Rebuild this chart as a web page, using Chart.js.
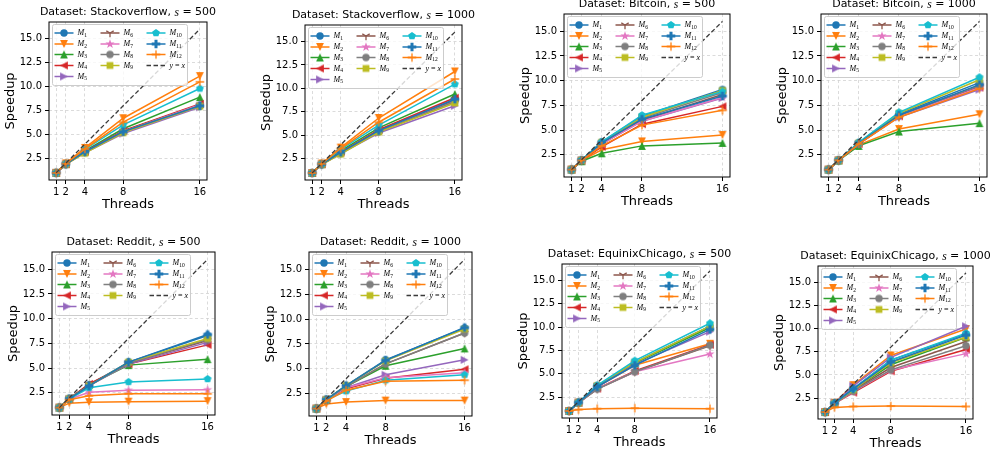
<!DOCTYPE html>
<html>
<head>
<meta charset="utf-8">
<script src="https://cdn.jsdelivr.net/npm/chart.js@4.4.1/dist/chart.umd.min.js"></script>
<style>
  html, body { margin: 0; padding: 0; background: #fff; }
  body { width: 997px; height: 456px; position: relative; overflow: hidden; }
</style>
</head>
<body>
<script>
const threads = [1, 2, 4, 8, 16];
const yTicks = [2.5, 5, 7.5, 10, 12.5, 15];
const methodIds = [1, 2, 3, 4, 5, 6, 7, 8, 9, 10, 11, 12];

// rows = M1..M12, columns = threads
const stackoverflow500 = [
  [1, 1.9, 3.2, 5.3, 8.0],
  [1, 1.98, 3.6, 6.7, 11.1],
  [1, 1.93, 3.3, 5.6, 8.9],
  [1, 1.9, 3.2, 5.4, 8.2],
  [1, 1.88, 3.1, 5.1, 7.85],
  [1, 1.9, 3.2, 5.35, 8.1],
  [1, 1.9, 3.15, 5.3, 8.1],
  [1, 1.9, 3.15, 5.3, 8.0],
  [1, 1.88, 3.05, 5.2, 7.95],
  [1, 1.95, 3.45, 6.0, 9.8],
  [1, 1.9, 3.2, 5.3, 8.0],
  [1, 1.96, 3.5, 6.3, 10.5]
];
const stackoverflow1000 = [
  [1, 1.92, 3.2, 5.5, 8.8],
  [1, 2.0, 3.7, 6.85, 11.8],
  [1, 1.95, 3.35, 5.8, 9.4],
  [1, 1.92, 3.2, 5.6, 9.0],
  [1, 1.9, 3.05, 5.25, 8.15],
  [1, 1.92, 3.1, 5.45, 8.7],
  [1, 1.92, 3.1, 5.45, 8.6],
  [1, 1.92, 3.1, 5.4, 8.6],
  [1, 1.9, 3.0, 5.35, 8.45],
  [1, 1.96, 3.5, 6.1, 10.45],
  [1, 1.92, 3.2, 5.5, 8.85],
  [1, 1.98, 3.6, 6.4, 11.0]
];
const bitcoin500 = [
  [1, 1.95, 3.8, 6.4, 9.1],
  [1, 1.9, 3.0, 3.85, 4.5],
  [1, 1.85, 2.65, 3.4, 3.7],
  [1, 1.93, 3.3, 5.6, 7.4],
  [1, 1.95, 3.6, 5.9, 8.25],
  [1, 1.95, 3.6, 6.0, 8.6],
  [1, 1.95, 3.6, 5.9, 8.3],
  [1, 1.95, 3.7, 6.2, 8.8],
  [1, 1.95, 3.75, 6.3, 9.0],
  [1, 1.96, 3.8, 6.5, 8.9],
  [1, 1.95, 3.7, 6.1, 8.45],
  [1, 1.93, 3.4, 5.5, 7.0]
];
const bitcoin1000 = [
  [1, 1.95, 3.7, 6.6, 9.8],
  [1, 1.93, 3.5, 5.1, 6.6],
  [1, 1.92, 3.4, 4.85, 5.7],
  [1, 1.95, 3.6, 6.4, 9.3],
  [1, 1.95, 3.6, 6.3, 9.1],
  [1, 1.95, 3.6, 6.4, 9.4],
  [1, 1.95, 3.6, 6.4, 9.3],
  [1, 1.95, 3.65, 6.5, 9.5],
  [1, 1.95, 3.7, 6.7, 10.1],
  [1, 1.96, 3.75, 6.8, 10.35],
  [1, 1.95, 3.65, 6.5, 9.6],
  [1, 1.95, 3.6, 6.3, 9.2]
];
const reddit500 = [
  [1, 1.9, 3.3, 5.6, 8.3],
  [1, 1.45, 1.55, 1.6, 1.65],
  [1, 1.9, 3.3, 5.3, 5.9],
  [1, 1.9, 3.4, 5.4, 7.35],
  [1, 1.88, 3.2, 5.4, 7.6],
  [1, 1.9, 3.3, 5.5, 7.8],
  [1, 1.85, 2.55, 2.75, 2.8],
  [1, 1.9, 3.2, 5.5, 7.9],
  [1, 1.9, 3.2, 5.6, 8.0],
  [1, 1.85, 3.0, 3.6, 3.9],
  [1, 1.9, 3.2, 5.6, 8.4],
  [1, 1.8, 2.2, 2.4, 2.4]
];
const reddit1000 = [
  [1, 1.9, 3.3, 5.9, 9.1],
  [1, 1.45, 1.65, 1.8, 1.8],
  [1, 1.9, 3.2, 5.3, 7.05],
  [1, 1.88, 3.0, 4.05, 4.95],
  [1, 1.88, 3.1, 4.4, 5.9],
  [1, 1.9, 3.2, 5.5, 8.6],
  [1, 1.88, 3.1, 4.1, 4.6],
  [1, 1.9, 3.2, 5.5, 8.6],
  [1, 1.9, 3.3, 5.8, 9.0],
  [1, 1.85, 2.75, 3.85, 4.4],
  [1, 1.9, 3.3, 5.85, 9.15],
  [1, 1.75, 2.85, 3.75, 3.85]
];
const equinix500 = [
  [1, 1.9, 3.7, 6.2, 10.1],
  [1, 1.9, 3.6, 5.9, 8.2],
  [1, 1.9, 3.6, 6.1, 9.95],
  [1, 1.88, 3.4, 5.3, 8.1],
  [1, 1.9, 3.6, 6.0, 9.5],
  [1, 1.88, 3.35, 5.2, 8.0],
  [1, 1.88, 3.4, 5.2, 7.1],
  [1, 1.88, 3.35, 5.2, 8.05],
  [1, 1.9, 3.7, 6.2, 10.1],
  [1, 1.92, 3.75, 6.4, 10.4],
  [1, 1.9, 3.6, 5.9, 9.75],
  [1, 1.15, 1.25, 1.3, 1.25]
];
const equinix1000 = [
  [1, 1.95, 3.5, 6.6, 9.4],
  [1, 2.0, 3.9, 7.1, 9.95],
  [1, 1.93, 3.4, 6.1, 9.05],
  [1, 1.9, 3.1, 5.4, 7.75],
  [1, 1.98, 3.8, 6.9, 10.25],
  [1, 1.92, 3.3, 5.8, 8.6],
  [1, 1.9, 3.2, 5.5, 7.3],
  [1, 1.9, 3.25, 5.55, 8.15],
  [1, 1.93, 3.4, 6.3, 9.1],
  [1, 1.95, 3.5, 6.6, 9.5],
  [1, 1.95, 3.5, 6.4, 9.3],
  [1, 1.5, 1.6, 1.65, 1.6]
];

const colors = ['#1f77b4', '#ff7f0e', '#2ca02c', '#d62728', '#9467bd', '#8c564b',
                '#e377c2', '#7f7f7f', '#bcbd22', '#17becf', '#1f77b4', '#ff7f0e'];
const markers = ['o', 'v', '^', '<', '>', '1', '*', 'o', 's', 'p', 'P', '+'];

// plot-area boxes [left, top, right, bottom] in page pixels
const panels = [
  { name: 'Stackoverflow', s: 500, values: stackoverflow500, box: [49, 22, 207, 180] },
  { name: 'Stackoverflow', s: 1000, values: stackoverflow1000, box: [305, 25, 462, 180] },
  { name: 'Bitcoin', s: 500, values: bitcoin500, box: [564, 14, 730, 177] },
  { name: 'Bitcoin', s: 1000, values: bitcoin1000, box: [821, 14, 987, 177] },
  { name: 'Reddit', s: 500, values: reddit500, box: [52, 252, 215, 415] },
  { name: 'Reddit', s: 1000, values: reddit1000, box: [309, 252, 472, 416] },
  { name: 'EquinixChicago', s: 500, values: equinix500, box: [562, 264, 717, 418] },
  { name: 'EquinixChicago', s: 1000, values: equinix1000, box: [818, 266, 973, 419] }
];

const SANS = '"DejaVu Sans", sans-serif';
const SERIF = '"Liberation Serif", "DejaVu Serif", serif';
const triAngles = { '^': 0, '>': 90, 'v': 180, '<': 270 };

function drawMarker(ctx, kind, cx, cy, color) {
  ctx.save();
  ctx.fillStyle = color;
  ctx.strokeStyle = color;
  ctx.lineWidth = 1.3;
  ctx.beginPath();
  const poly = pts => {
    pts.forEach(([x, y], i) => i ? ctx.lineTo(cx + x, cy + y) : ctx.moveTo(cx + x, cy + y));
    ctx.closePath();
    ctx.fill();
  };
  if (kind === 'o') {
    ctx.arc(cx, cy, 3.7, 0, Math.PI * 2);
    ctx.fill();
  } else if (kind in triAngles) {
    const a = triAngles[kind] * Math.PI / 180, h = 3.9;
    poly([[0, -h], [-h, h], [h, h]].map(([x, y]) =>
      [x * Math.cos(a) - y * Math.sin(a), x * Math.sin(a) + y * Math.cos(a)]));
  } else if (kind === 's') {
    ctx.fillRect(cx - 3.4, cy - 3.4, 6.8, 6.8);
  } else if (kind === 'p') {
    const pts = [];
    for (let k = 0; k < 5; k++) {
      const a = (-90 + 72 * k) * Math.PI / 180;
      pts.push([4.1 * Math.cos(a), 4.1 * Math.sin(a)]);
    }
    poly(pts);
  } else if (kind === '*') {
    const pts = [];
    for (let k = 0; k < 10; k++) {
      const a = (-90 + 36 * k) * Math.PI / 180, rr = k % 2 ? 1.9 : 4.8;
      pts.push([rr * Math.cos(a), rr * Math.sin(a)]);
    }
    poly(pts);
  } else if (kind === 'P') {
    const a = 4.3, w = 1.5;
    poly([[-w, -a], [w, -a], [w, -w], [a, -w], [a, w], [w, w], [w, a], [-w, a],
          [-w, w], [-a, w], [-a, -w], [-w, -w]]);
  } else if (kind === '+') {
    ctx.moveTo(cx - 4.3, cy); ctx.lineTo(cx + 4.3, cy);
    ctx.moveTo(cx, cy - 4.3); ctx.lineTo(cx, cy + 4.3);
    ctx.stroke();
  } else if (kind === '1') {
    ctx.moveTo(cx, cy); ctx.lineTo(cx, cy + 4.3);
    ctx.moveTo(cx, cy); ctx.lineTo(cx - 3.7, cy - 2.15);
    ctx.moveTo(cx, cy); ctx.lineTo(cx + 3.7, cy - 2.15);
    ctx.stroke();
  }
  ctx.restore();
}

function makeMarker(kind, color) {
  const c = document.createElement('canvas');
  c.width = 14;
  c.height = 14;
  drawMarker(c.getContext('2d'), kind, 7, 7, color);
  return c;
}
const markerImgs = markers.map((m, i) => makeMarker(m, colors[i]));

function drawLegend(ctx, a) {
  const x0 = a.left + 3.5, y0 = a.top + 2.5, w = 135, h = 61;
  ctx.save();
  ctx.beginPath();
  ctx.roundRect(x0, y0, w, h, 2);
  ctx.fillStyle = 'rgba(255,255,255,0.8)';
  ctx.fill();
  ctx.strokeStyle = '#cccccc';
  ctx.lineWidth = 1;
  ctx.stroke();

  const colX = [2, 48, 94];
  const rowY = [8.5, 19.5, 30, 41, 52];
  const slots = [];
  methodIds.forEach((id, i) => {
    const col = i < 5 ? 0 : i < 9 ? 1 : 2;
    const row = i < 5 ? i : i < 9 ? i - 5 : i - 9;
    slots.push({ col, row, id, i });
  });
  slots.push({ col: 2, row: 3, id: null, i: -1 });

  ctx.textBaseline = 'middle';
  ctx.fillStyle = '#000';
  slots.forEach(sl => {
    const hx = x0 + colX[sl.col], hy = y0 + rowY[sl.row];
    ctx.beginPath();
    ctx.lineWidth = 1.5;
    if (sl.i >= 0) {
      ctx.strokeStyle = colors[sl.i];
      ctx.setLineDash([]);
      ctx.moveTo(hx, hy); ctx.lineTo(hx + 19, hy);
      ctx.stroke();
      const img = markerImgs[sl.i];
      ctx.drawImage(img, hx + 9.5 - img.width / 2, hy - img.height / 2);
      ctx.font = 'italic 8px ' + SERIF;
      ctx.fillText('M', hx + 23, hy);
      const mw = ctx.measureText('M').width;
      ctx.font = '5.5px ' + SERIF;
      ctx.fillText(String(sl.id), hx + 23 + mw, hy + 2.2);
    } else {
      ctx.strokeStyle = '#3a3a3a';
      ctx.setLineDash([4.5, 2.5]);
      ctx.moveTo(hx, hy); ctx.lineTo(hx + 19, hy);
      ctx.stroke();
      ctx.setLineDash([]);
      let tx = hx + 23;
      [['y', 'italic 8px '], [' = ', '8px '], ['x', 'italic 8px ']].forEach(([t, f]) => {
        ctx.font = f + SERIF;
        ctx.fillText(t, tx, hy);
        tx += ctx.measureText(t).width;
      });
    }
  });
  ctx.restore();
}

function drawTitle(ctx, a, name, s) {
  const parts = [
    ['Dataset: ' + name + ', ', '11px ' + SANS],
    ['s', 'italic 11.5px ' + SERIF],
    [' = ', '11px ' + SANS],
    [String(s), '11px ' + SANS]
  ];
  ctx.save();
  let total = 0;
  parts.forEach(([t, f]) => { ctx.font = f; total += ctx.measureText(t).width; });
  let x = (a.left + a.right) / 2 - total / 2;
  const y = a.top - 9.5;
  ctx.textBaseline = 'middle';
  ctx.fillStyle = '#000';
  parts.forEach(([t, f]) => {
    ctx.font = f;
    ctx.fillText(t, x, y);
    x += ctx.measureText(t).width;
  });
  ctx.restore();
}

const decor = {
  id: 'panelDecor',
  afterDatasetsDraw(chart, args, opts) {
    const { ctx, chartArea: a } = chart;
    ctx.save();
    ctx.strokeStyle = '#000';
    ctx.lineWidth = 1;
    ctx.strokeRect(a.left, a.top, a.right - a.left, a.bottom - a.top);
    ctx.restore();
    drawLegend(ctx, a);
    drawTitle(ctx, a, opts.name, opts.s);
  }
};

function buildPanel(p) {
  const [l, t, r, b] = p.box;
  const yW = 48, xH = 40, padTop = 22, padRight = 40;
  const W = r - l + yW + padRight, H = b - t + padTop + xH;
  const cv = document.createElement('canvas');
  cv.width = W;
  cv.height = H;
  cv.style.cssText = `position:absolute;left:${l - yW}px;top:${t - padTop}px;width:${W}px;height:${H}px`;
  document.body.appendChild(cv);

  const datasets = p.values.map((vals, i) => ({
    label: 'M' + methodIds[i],
    data: threads.map((x, j) => ({ x: x, y: vals[j] })),
    borderColor: colors[i],
    backgroundColor: colors[i],
    borderWidth: 1.5,
    pointStyle: markerImgs[i],
    pointRadius: 3.5,
    order: 13 - i
  }));
  datasets.push({
    label: 'y=x',
    data: threads.map(x => ({ x: x, y: x })),
    borderColor: '#3a3a3a',
    borderDash: [4.5, 2.5],
    borderWidth: 1.3,
    pointRadius: 0,
    order: 0
  });

  const gridOpts = { color: '#d2d2d2', lineWidth: 0.8, tickColor: '#000', tickLength: 4, tickWidth: 1, tickBorderDash: [] };

  new Chart(cv, {
    type: 'line',
    data: { datasets: datasets },
    options: {
      responsive: false,
      animation: false,
      devicePixelRatio: 1,
      layout: { padding: { top: padTop, right: padRight, left: 0, bottom: 0 } },
      elements: { line: { tension: 0 } },
      plugins: {
        legend: { display: false },
        tooltip: { enabled: false },
        panelDecor: { name: p.name, s: p.s }
      },
      scales: {
        x: {
          type: 'linear',
          min: 0.25,
          max: 16.75,
          afterBuildTicks: s => { s.ticks = threads.map(v => ({ value: v })); },
          afterFit: s => { s.height = xH; s.paddingLeft = 0; s.paddingRight = 0; },
          ticks: { autoSkip: false, maxRotation: 0, padding: 2, color: '#000',
                   font: { size: 10, family: SANS }, callback: v => String(v) },
          grid: gridOpts,
          border: { display: false, dash: [3, 2.5] },
          title: { display: true, text: 'Threads', color: '#000',
                   font: { size: 13, family: SANS }, padding: { top: 0, bottom: 8 } }
        },
        y: {
          type: 'linear',
          min: 0.25,
          max: 16.75,
          afterBuildTicks: s => { s.ticks = yTicks.map(v => ({ value: v })); },
          afterFit: s => { s.width = yW; s.paddingTop = 0; s.paddingBottom = 0; },
          ticks: { padding: 3, color: '#000', font: { size: 10, family: SANS },
                   callback: v => v.toFixed(1) },
          grid: gridOpts,
          border: { display: false, dash: [3, 2.5] },
          title: { display: true, text: 'Speedup', color: '#000',
                   font: { size: 13, family: SANS }, padding: { top: 2, bottom: 0 } }
        }
      }
    },
    plugins: [decor]
  });
}

panels.forEach(buildPanel);
</script>
</body>
</html>
